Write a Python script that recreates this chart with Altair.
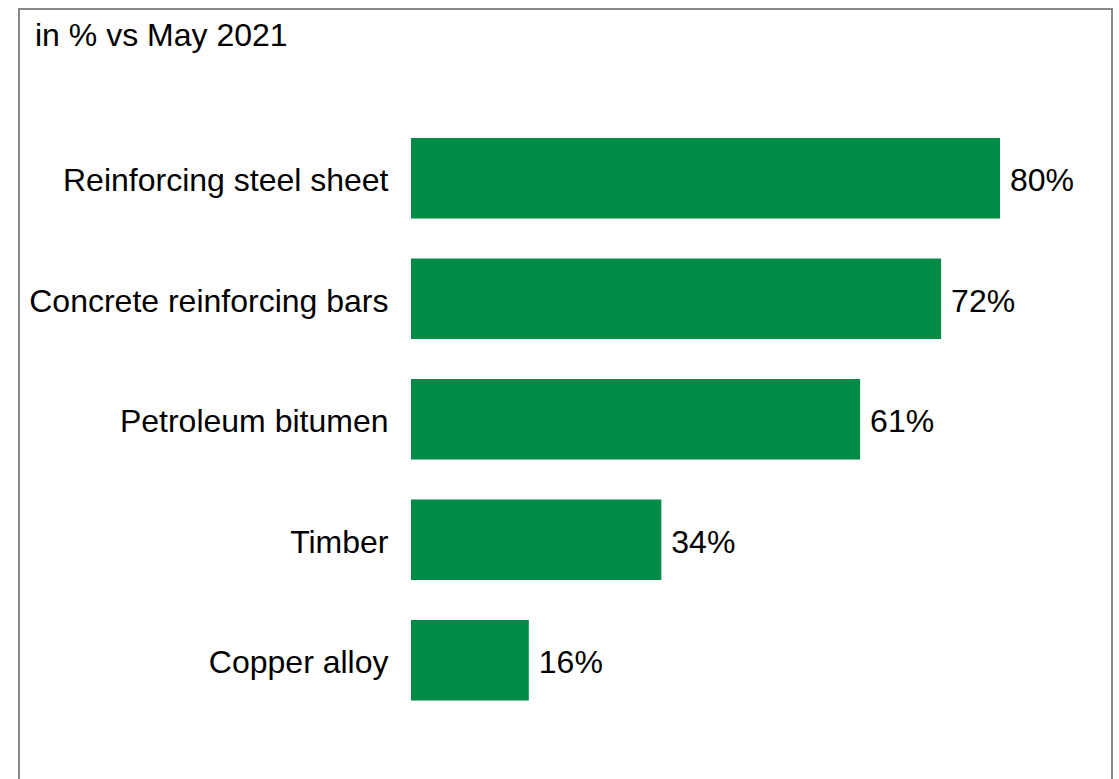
import altair as alt
import pandas as pd

materials = ["Reinforcing steel sheet", "Concrete reinforcing bars", "Petroleum bitumen", "Timber", "Copper alloy"]
values = [80, 72, 61, 34, 16]
labels = ["80%", "72%", "61%", "34%", "16%"]

df = pd.DataFrame({"material": materials, "value": values, "label": labels})

FONT = "Liberation Sans"
FS = 32
L, T = 411, 118
W, H = 589, 602.5

y_enc = alt.Y("material:N", sort=materials, title=None,
              scale=alt.Scale(paddingInner=1/3, paddingOuter=1/6),
              axis=alt.Axis(ticks=False, domain=False, labelPadding=23, labelFontSize=FS,
                            labelFont=FONT, labelColor="#000000", labelLimit=600,
                            labelOffset=3))
x_enc = alt.X("value:Q", title=None, scale=alt.Scale(domain=[0, 80], nice=False, zero=True),
              axis=None)

bars = alt.Chart(df).mark_bar(color="#008B47").encode(x=x_enc, y=y_enc)
text = alt.Chart(df).mark_text(align="left", baseline="middle", dx=10, dy=3, fontSize=FS,
                               font=FONT, color="#000000").encode(x=x_enc, y=y_enc, text="label:N")

one = pd.DataFrame({"a": [0]})
border = alt.Chart(one).mark_rect(fillOpacity=0, stroke="#888888", strokeWidth=2).encode(
    x=alt.value(19 - L), x2=alt.value(1112 - L), y=alt.value(9 - T), y2=alt.value(800))
title = alt.Chart(one).mark_text(align="left", baseline="alphabetic", fontSize=FS, font=FONT,
                                 color="#000000").encode(
    x=alt.value(35 - L), y=alt.value(46 - T), text=alt.value("in % vs May 2021"))

chart = alt.layer(border, bars, text, title).properties(
    width=W, height=H, autosize=alt.AutoSizeParams(type="none"), background="white",
    padding={"left": L, "top": T, "right": 1119 - L - W, "bottom": 779 - T - H}
).configure_view(strokeWidth=0, stroke="transparent")

chart.save("out.html", embed_options={"renderer": "svg", "actions": False})
